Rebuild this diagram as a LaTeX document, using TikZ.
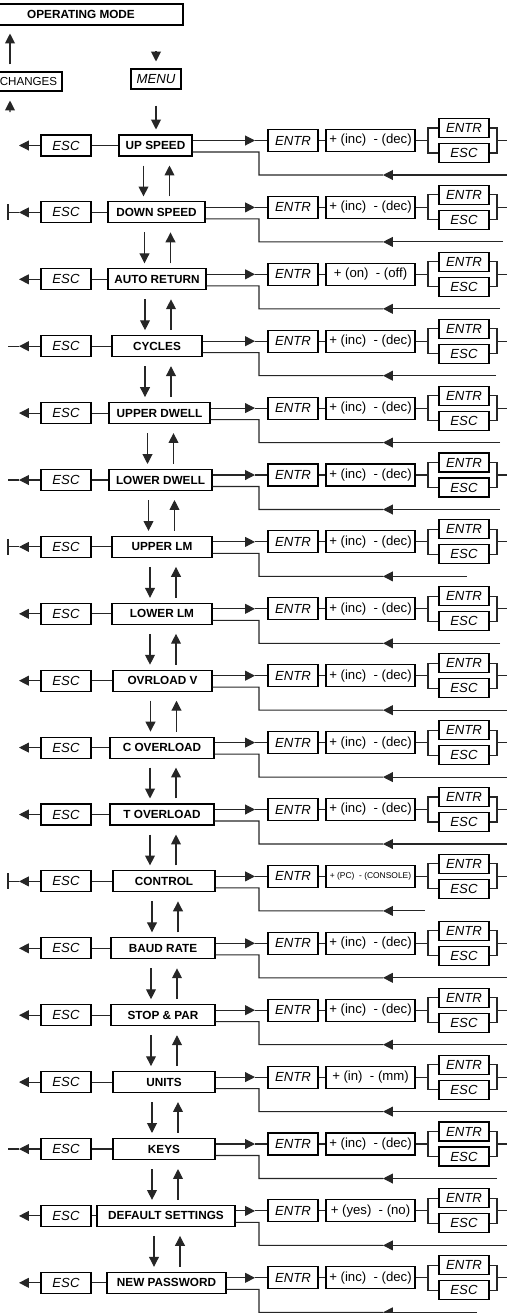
\documentclass[tikz,border=0pt]{standalone}
\usepackage{fontspec}
\setmainfont{Liberation Sans}
\usetikzlibrary{arrows.meta}
\newcommand\incdec{+ (inc)\ \ - (dec)}
\tikzset{
  wire/.style={line width=0.6pt, draw=black!85},
  tip/.style={-{Triangle[length=5.6pt,width=5.6pt]}},
  menubox/.style={draw, line width=0.6pt, inner sep=0pt, minimum height=0.42cm,
    font=\fontsize{6.7}{8}\selectfont\bfseries},
  keybox/.style={draw, line width=0.6pt, inner sep=0pt, minimum width=1cm,
    minimum height=0.42cm, font=\fontsize{7.5}{9}\selectfont\itshape},
  stackbox/.style={keybox, minimum height=0.38cm},
  valbox/.style={draw, line width=0.6pt, inner sep=0pt, minimum width=1.78cm,
    minimum height=0.44cm, font=\fontsize{7.5}{9}\selectfont}
}

\begin{document}
\begin{tikzpicture}[x=0.02cm, y=-0.02cm]
  \useasboundingbox (0,0) rectangle (507,1313);
  \clip (0,0) rectangle (507,1313);

  % top
  \node[menubox, minimum width=4.08cm] (mode) at (81,14.5) {OPERATING MODE};
  \node[draw, line width=0.6pt, inner sep=0pt, minimum width=1.34cm, minimum height=0.38cm,
    font=\fontsize{6.6}{8}\selectfont] (changes) at (28.5,81.5) {CHANGES};
  \draw[wire, tip, shorten <=0.14cm, shorten >=0.16cm]
    ([xshift=-0.37cm]changes.north) -- ([xshift=-0.37cm]changes.north |- mode.south);
  \coordinate (save) at (10,112);
  \draw[wire, tip, shorten >=0.18cm] (save) -- ([xshift=-0.37cm]changes.south);
  \node[keybox, minimum height=0.4cm] (menukey) at (156,79) {MENU};
  \coordinate (enter) at (156,51);
  \draw[wire, tip, shorten >=0.14cm] (enter) -- (menukey.north);

  % one row per setting
  \foreach \i/\lab/\cx/\w/\val/\rend/\lend in {
    1/UP SPEED/155.5/73/\incdec/507/0,
    2/DOWN SPEED/156.5/97/\incdec/503/1,
    3/AUTO RETURN/157/98/+ (on)\ \ - (off)/500/0,
    4/CYCLES/157/90/\incdec/496/2,
    5/UPPER DWELL/159.5/101/\incdec/500/0,
    6/LOWER DWELL/160.5/103/\incdec/500/2,
    7/UPPER LM/162/100/\incdec/467/1,
    8/LOWER LM/162/100/\incdec/500/0,
    9/OVRLOAD V/162.5/99/\incdec/507/0,
    10/C OVERLOAD/162/104/\incdec/507/0,
    11/T OVERLOAD/162/104/\incdec/507/0,
    12/CONTROL/164/102/{\fontsize{4.8}{6}\selectfont + (PC)\ \ - (CONSOLE)}/425/1,
    13/BAUD RATE/163/104/\incdec/507/0,
    14/STOP \& PAR/163/104/\incdec/507/0,
    15/UNITS/164/102/+ (in)\ \ - (mm)/507/0,
    16/KEYS/164/102/\incdec/497/2,
    17/DEFAULT SETTINGS/166/138/+ (yes)\ \ - (no)/507/0,
    18/NEW PASSWORD/166.5/119/\incdec/477/0}{
    \pgfmathsetmacro\yc{145.5+(\i-1)*66.9}
    \node[menubox, minimum width=\w*0.02cm] (menu\i) at (\cx,\yc) {\lab};
    \node[keybox] (esc\i) at (66,\yc) {ESC};
    \node[keybox, minimum height=0.44cm] (entr\i) at (293,\yc-5) {ENTR};
    \node[valbox] (val\i) at (370.5,\yc-5) {\val};
    \node[stackbox] (ok\i) at (464,\yc-17.5) {ENTR};
    \node[stackbox] (back\i) at (464,\yc+7.5) {ESC};
    % left: escape
    \coordinate (out\i) at (19,\yc);
    \draw[wire] (menu\i) -- (esc\i);
    \draw[wire, tip] (esc\i) -- (out\i);
    \coordinate (edge\i) at (8,\yc);
    \ifcase\lend
    \or
      \draw[wire] (out\i) -- (edge\i);
      \draw[wire] ([yshift=0.16cm]edge\i) -- ([yshift=-0.16cm]edge\i);
    \or
      \draw[wire] (out\i) -- (edge\i);
    \fi
    % right: edit value
    \coordinate (in\i) at (255,\yc-5);
    \draw[wire, tip] (menu\i.east |- entr\i) -- (in\i);
    \draw[wire] (in\i) -- (entr\i);
    \draw[wire] (entr\i) -- (val\i);
    \coordinate (br\i) at (428,\yc-5);
    \draw[wire] (val\i) -- (br\i);
    \draw[wire] (ok\i) -| (br\i) |- (back\i);
    \coordinate (rb\i) at (497,\yc-5);
    \coordinate (exit\i) at (507,\yc-5);
    \draw[wire] (ok\i) -| (rb\i) |- (back\i);
    \draw[wire] (rb\i) -- (exit\i);
    % return line
    \coordinate (ret\i) at (\rend,\yc+29.5);
    \coordinate (mid\i) at (383,\yc+29.5);
    \draw[wire, tip] (ret\i) -- (mid\i);
    \draw[wire] (mid\i) -| (259,\yc+6.5) -- ([yshift=-0.13cm]menu\i.east);
  }

  % menu to first setting
  \draw[wire, tip, shorten <=0.32cm, shorten >=0.1cm] (menukey.south) -- (menukey.south |- menu1.north);

  % scrolling between settings
  \foreach \i in {1,...,17}{
    \pgfmathtruncatemacro\j{\i+1}
    \draw[wire, tip, shorten <=0.18cm, shorten >=0.1cm]
      ([xshift=-0.24cm]menu\i.south) -- ([xshift=-0.24cm]menu\i.south |- menu\j.north);
    \draw[wire, tip, shorten <=0.1cm, shorten >=0.18cm]
      ([xshift=0.28cm]menu\i.south |- menu\j.north) -- ([xshift=0.28cm]menu\i.south);
  }
\end{tikzpicture}
\end{document}
